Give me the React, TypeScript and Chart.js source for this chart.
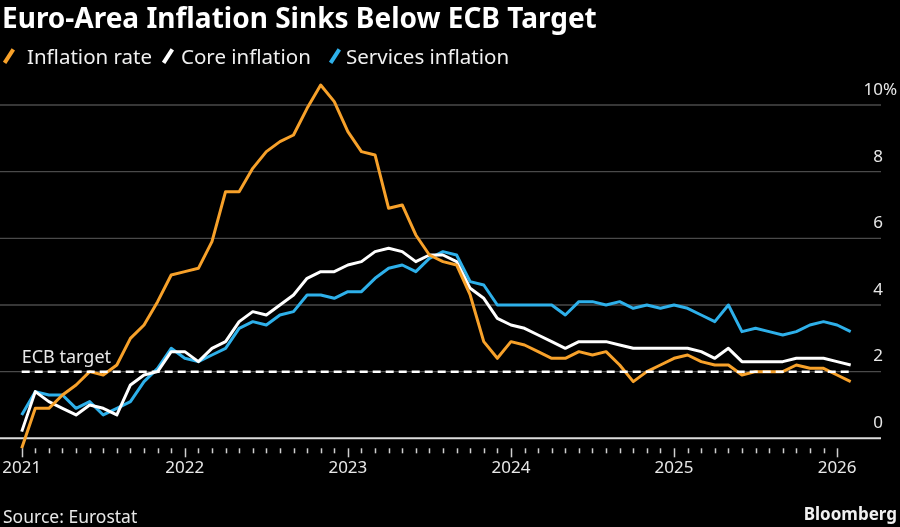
import React, { useEffect, useRef } from 'react';
import { Chart, registerables } from 'chart.js';

Chart.register(...registerables);

// ---------- data (monthly, Dec 2020 .. Jan 2026) ----------
const TITLE = 'Euro-Area Inflation Sinks Below ECB Target';
const SERIES_NAMES = ['Inflation rate', 'Core inflation', 'Services inflation'];
const SERIES_COLORS = ['#f7a12a', '#ffffff', '#2eb0ea'];
const YEAR_LABELS = ['2021', '2022', '2023', '2024', '2025', '2026'];
const Y_TICKS = [0, 2, 4, 6, 8, 10];
const ECB_TARGET = 2;
const ECB_LABEL = 'ECB target';
const SOURCE = 'Source: Eurostat';

const inflation = [
  -0.3,
  0.9, 0.9, 1.3, 1.6, 2.0, 1.9, 2.2, 3.0, 3.4, 4.1, 4.9, 5.0,
  5.1, 5.9, 7.4, 7.4, 8.1, 8.6, 8.9, 9.1, 9.9, 10.6, 10.1, 9.2,
  8.6, 8.5, 6.9, 7.0, 6.1, 5.5, 5.3, 5.2, 4.3, 2.9, 2.4, 2.9,
  2.8, 2.6, 2.4, 2.4, 2.6, 2.5, 2.6, 2.2, 1.7, 2.0, 2.2, 2.4,
  2.5, 2.3, 2.2, 2.2, 1.9, 2.0, 2.0, 2.0, 2.2, 2.1, 2.1, 1.9,
  1.7,
];

const core = [
  0.2,
  1.4, 1.1, 0.9, 0.7, 1.0, 0.9, 0.7, 1.6, 1.9, 2.0, 2.6, 2.6,
  2.3, 2.7, 2.9, 3.5, 3.8, 3.7, 4.0, 4.3, 4.8, 5.0, 5.0, 5.2,
  5.3, 5.6, 5.7, 5.6, 5.3, 5.5, 5.5, 5.3, 4.5, 4.2, 3.6, 3.4,
  3.3, 3.1, 2.9, 2.7, 2.9, 2.9, 2.9, 2.8, 2.7, 2.7, 2.7, 2.7,
  2.7, 2.6, 2.4, 2.7, 2.3, 2.3, 2.3, 2.3, 2.4, 2.4, 2.4, 2.3,
  2.2,
];

const services = [
  0.7,
  1.4, 1.3, 1.3, 0.9, 1.1, 0.7, 0.9, 1.1, 1.7, 2.1, 2.7, 2.4,
  2.3, 2.5, 2.7, 3.3, 3.5, 3.4, 3.7, 3.8, 4.3, 4.3, 4.2, 4.4,
  4.4, 4.8, 5.1, 5.2, 5.0, 5.4, 5.6, 5.5, 4.7, 4.6, 4.0, 4.0,
  4.0, 4.0, 4.0, 3.7, 4.1, 4.1, 4.0, 4.1, 3.9, 4.0, 3.9, 4.0,
  3.9, 3.7, 3.5, 4.0, 3.2, 3.3, 3.2, 3.1, 3.2, 3.4, 3.5, 3.4,
  3.2,
];

const FONT = '"Noto Sans", "DejaVu Sans", sans-serif';

const toPoints = (arr: number[]) => arr.map((v, i) => ({ x: i, y: v }));

const decorPlugin = {
  id: 'decor',
  beforeDatasetsDraw(chart: any) {
    const { ctx, chartArea, scales } = chart;
    const y = scales.y;
    ctx.save();
    Y_TICKS.forEach((v) => {
      const py = y.getPixelForValue(v);
      ctx.beginPath();
      ctx.strokeStyle = v === 0 ? '#dcdcdc' : '#4a4a4a';
      ctx.lineWidth = v === 0 ? 2 : 1.3;
      ctx.moveTo(chartArea.left, py);
      ctx.lineTo(chartArea.right, py);
      ctx.stroke();
    });
    ctx.restore();
  },
  afterDatasetsDraw(chart: any) {
    const { ctx, chartArea, scales } = chart;
    const x = scales.x;
    const y = scales.y;
    ctx.save();
    // y labels
    ctx.font = `17px ${FONT}`;
    ctx.fillStyle = '#e8e8e8';
    ctx.textBaseline = 'middle';
    Y_TICKS.forEach((v) => {
      const py = y.getPixelForValue(v) - 15;
      ctx.textAlign = 'right';
      ctx.fillText(String(v), chartArea.right + 2, py);
      if (v === Y_TICKS[Y_TICKS.length - 1]) {
        ctx.textAlign = 'left';
        ctx.fillText('%', chartArea.right + 2, py);
      }
    });
    // x ticks
    const y0 = y.getPixelForValue(0);
    ctx.strokeStyle = '#cfcfcf';
    ctx.lineWidth = 1.5;
    const nMonths = (YEAR_LABELS.length - 1) * 12;
    for (let i = 0; i <= nMonths; i++) {
      const px = Math.round(x.getPixelForValue(i)) + 0.5;
      const major = i % 12 === 0;
      ctx.beginPath();
      ctx.moveTo(px, y0 + 10);
      ctx.lineTo(px, y0 + 10 + (major ? 9 : 5));
      ctx.stroke();
    }
    // year labels
    ctx.font = `17px ${FONT}`;
    ctx.fillStyle = '#e8e8e8';
    ctx.textAlign = 'center';
    YEAR_LABELS.forEach((lab, k) => {
      ctx.fillText(lab, x.getPixelForValue(k * 12), y0 + 30);
    });
    // ECB target label
    ctx.font = `18px ${FONT}`;
    ctx.textAlign = 'left';
    ctx.fillText(ECB_LABEL, x.getPixelForValue(0), y.getPixelForValue(ECB_TARGET) - 14);
    ctx.restore();
  },
};

export default function App() {
  const canvasRef = useRef<HTMLCanvasElement | null>(null);

  useEffect(() => {
    if (!canvasRef.current) return;
    const last = inflation.length - 1;
    const chart = new Chart(canvasRef.current, {
      type: 'line',
      data: {
        datasets: [
          {
            label: ECB_LABEL,
            data: [{ x: 0, y: ECB_TARGET }, { x: last, y: ECB_TARGET }],
            borderColor: '#ffffff',
            borderWidth: 2.5,
            borderDash: [8, 5],
            pointRadius: 0,
            clip: false as any,
          },
          {
            label: SERIES_NAMES[0],
            data: toPoints(inflation),
            borderColor: SERIES_COLORS[0],
            borderWidth: 3,
            pointRadius: 0,
            borderJoinStyle: 'round',
            clip: false as any,
          },
          {
            label: SERIES_NAMES[1],
            data: toPoints(core),
            borderColor: SERIES_COLORS[1],
            borderWidth: 3,
            pointRadius: 0,
            borderJoinStyle: 'round',
            clip: false as any,
          },
          {
            label: SERIES_NAMES[2],
            data: toPoints(services),
            borderColor: SERIES_COLORS[2],
            borderWidth: 3,
            pointRadius: 0,
            borderJoinStyle: 'round',
            clip: false as any,
          },
        ],
      },
      options: {
        animation: false,
        responsive: true,
        maintainAspectRatio: false,
        layout: { padding: { left: 0, right: 19, top: 75, bottom: 68.7 } },
        plugins: { legend: { display: false }, tooltip: { enabled: false } },
        scales: {
          x: { type: 'linear', display: false, min: -1.597, max: 63.23 },
          y: { type: 'linear', display: false, min: -0.6, max: 10.9 },
        },
      },
      plugins: [decorPlugin],
    });
    return () => chart.destroy();
  }, []);

  const slash = (color: string): React.CSSProperties => ({
    position: 'absolute',
    width: 3.5,
    height: 16,
    background: color,
    transform: 'rotate(33deg)',
    top: 48,
  });

  const legendItems = [
    { slashX: 7, textX: 27 },
    { slashX: 166, textX: 181 },
    { slashX: 333, textX: 346 },
  ];

  return (
    <div
      style={{
        position: 'absolute',
        left: 0,
        top: 0,
        width: 900,
        height: 527,
        background: '#000',
        overflow: 'hidden',
        fontFamily: FONT,
        color: '#fff',
      }}
    >
      <div style={{ position: 'absolute', left: 0, top: 0, width: 900, height: 527 }}>
        <canvas ref={canvasRef} />
      </div>
      <div
        style={{
          position: 'absolute',
          left: 2,
          top: 1,
          fontSize: 28,
          fontWeight: 700,
          lineHeight: '32px',
          whiteSpace: 'nowrap',
        }}
      >
        {TITLE}
      </div>
      {legendItems.map((it, i) => (
        <React.Fragment key={i}>
          <span style={{ ...slash(SERIES_COLORS[i]), left: it.slashX }} />
          <span
            style={{
              position: 'absolute',
              left: it.textX,
              top: 43.5,
              fontSize: 20.5,
              lineHeight: '24px',
              color: '#f0f0f0',
              whiteSpace: 'nowrap',
            }}
          >
            {SERIES_NAMES[i]}
          </span>
        </React.Fragment>
      ))}
      <div
        style={{
          position: 'absolute',
          left: 3,
          top: 505,
          fontSize: 17.5,
          lineHeight: '22px',
          color: '#e8e8e8',
          whiteSpace: 'nowrap',
        }}
      >
        {SOURCE}
      </div>
      <div
        style={{
          position: 'absolute',
          right: 3,
          top: 503,
          fontSize: 17,
          fontWeight: 700,
          lineHeight: '22px',
          color: '#f0f0f0',
          whiteSpace: 'nowrap',
        }}
      >
        Bloomberg
      </div>
    </div>
  );
}
